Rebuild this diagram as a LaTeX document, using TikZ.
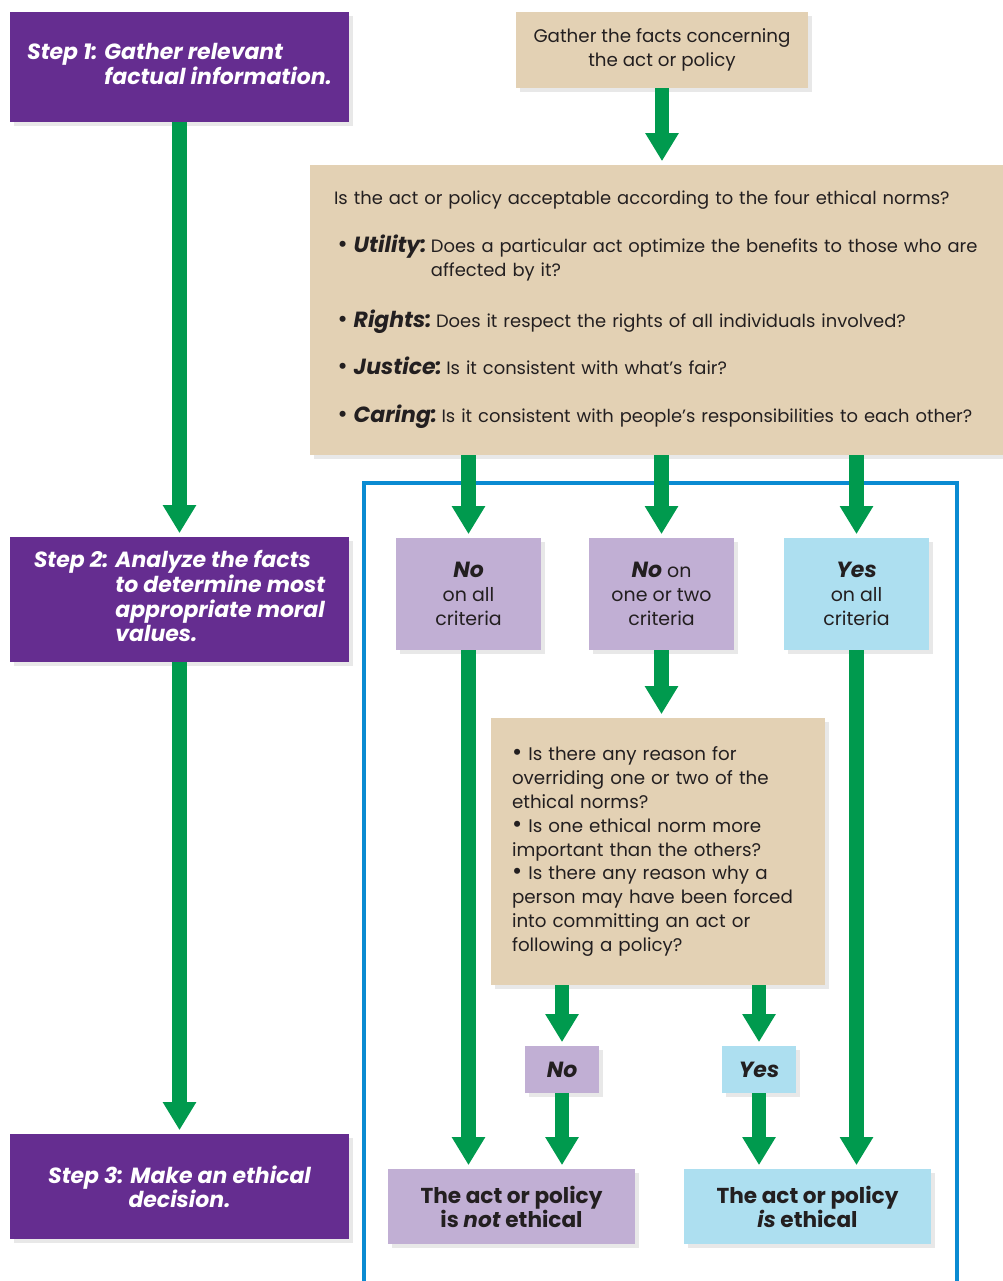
\documentclass[tikz,border=0pt]{standalone}
\usepackage{fontspec}
\setmainfont{Poppins}
\usetikzlibrary{arrows.meta,positioning,shadows}
\definecolor{stepviolet}{HTML}{652D90}
\definecolor{factstan}{HTML}{E3D1B4}
\definecolor{nolilac}{HTML}{C1AFD4}
\definecolor{yessky}{HTML}{ADDFF0}
\definecolor{framecyan}{HTML}{0A8BD2}
\definecolor{flowgreen}{HTML}{009A4E}
\definecolor{inkgray}{HTML}{231F20}
\newcommand{\bitext}[1]{{\fontsize{12.5}{13.6}\selectfont\bfseries\itshape #1}}
\newcommand{\dotmark}{{\fontsize{14}{13.6}\selectfont\textbullet}}
\newcommand{\crit}[1]{\hspace*{2pt}\dotmark\ \bitext{#1}\hspace{2.5pt}}

\begin{document}
\begin{tikzpicture}[x=0.02cm,y=-0.02cm,
  font=\fontsize{10.4}{13.6}\selectfont,
  boxbase/.style={inner sep=0pt,text=inkgray,
    drop shadow={opacity=0.18,shadow xshift=2.5pt,shadow yshift=-2.5pt}},
  stepbox/.style={boxbase,fill=stepviolet,text=white,minimum width=6.78cm,
    font=\fontsize{12.5}{13.6}\selectfont\bfseries\itshape},
  tanbox/.style={boxbase,fill=factstan},
  nobox/.style={boxbase,fill=nolilac},
  yesbox/.style={boxbase,fill=yessky},
  pick/.style={minimum width=2.9cm,minimum height=2.24cm,align=center,
    font=\fontsize{10.8}{13.6}\selectfont},
  answer/.style={minimum width=1.48cm,minimum height=0.94cm,
    font=\fontsize{12.5}{13.6}\selectfont\bfseries\itshape},
  verdict/.style={minimum width=4.94cm,minimum height=1.5cm,align=center,
    font=\fontsize{12.3}{13.6}\selectfont\bfseries},
  flow/.style={draw=flowgreen,line width=8pt,
    -{Triangle[width=18pt,length=16pt]},shorten >=2pt}]
\clip (0,0) rectangle (1003,1281);

% steps on the left
\node[stepbox,minimum height=2.2cm] (step1) at (179.5,67)
  {Step 1: \begin{tabular}[t]{@{}l@{}}Gather relevant\\factual information.\end{tabular}};
\node[stepbox,minimum height=2.5cm] (step2) at (179.5,599.5)
  {Step 2: \begin{tabular}[t]{@{}l@{}}Analyze the facts\\to determine most\\appropriate moral\\values.\end{tabular}};
\node[stepbox,minimum height=2.1cm,align=center] (step3) at (179.5,1186.5)
  {Step 3: Make an ethical\\decision.};

% frame round the outcomes
\draw[framecyan,line width=2.2pt] (364,483) rectangle (957,1300);

% facts and norms
\node[tanbox,minimum width=5.84cm,minimum height=1.52cm,align=center] (gather) at (662,50)
  {Gather the facts concerning\\the act or policy};
\node[tanbox,minimum width=13.86cm,minimum height=5.8cm,text width=12.9cm,align=left,
  font=\fontsize{10.2}{13.6}\selectfont] (norms) at (656.5,310)
  {Is the act or policy acceptable according to the four ethical norms?\\[13.6pt]
   \crit{Utility:}\begin{tabular}[t]{@{}l@{}}Does a particular act optimize the benefits to those who are\\affected by it?\end{tabular}\\[13.6pt]
   \crit{Rights:}Does it respect the rights of all individuals involved?\\[13.6pt]
   \crit{Justice:}Is it consistent with what’s fair?\\[13.6pt]
   \mbox{\crit{Caring:}Is it consistent with people’s responsibilities to each other?}};

% the three answers
\node[nobox,pick] (noall) at (468.5,594) {\bitext{No}\\on all\\criteria};
\node[nobox,pick] (nosome) at (661.5,594) {\bitext{No} on\\one or two\\criteria};
\node[yesbox,pick] (yesall) at (856.5,594) {\bitext{Yes}\\on all\\criteria};

\node[tanbox,minimum width=6.68cm,minimum height=5.34cm,text width=5.84cm,align=left] (questions) at (658,851.5)
  {\dotmark\ Is there any reason for\\overriding one or two of the\\ethical norms?\\
   \dotmark\ Is one ethical norm more\\important than the others?\\
   \dotmark\ Is there any reason why a\\person may have been forced\\into committing an act or\\following a policy?};

\node[nobox,answer] (no) at (562,1069.5) {No};
\node[yesbox,answer] (yes) at (759,1069.5) {Yes};

\node[nobox,verdict] (notok) at (511.5,1206.5) {The act or policy\\is \textit{not} ethical};
\node[yesbox,verdict] (ok) at (807.5,1206.5) {The act or policy\\\textit{is} ethical};

% arrows
\draw[flow] (step1) -- (step2);
\draw[flow] (step2) -- (step3);
\draw[flow] (gather) -- (gather |- norms.north);
\draw[flow] (norms.south -| noall) -- (noall.north);
\draw[flow] (norms.south -| nosome) -- (nosome.north);
\draw[flow] (norms.south -| yesall) -- (yesall.north);
\draw[flow] (noall) -- (noall |- notok.north);
\draw[flow] (nosome) -- (nosome |- questions.north);
\draw[flow] (questions.south -| no) -- (no);
\draw[flow] (questions.south -| yes) -- (yes);
\draw[flow] (no) -- (no |- notok.north);
\draw[flow] (yes) -- (yes |- ok.north);
\draw[flow] (yesall) -- (yesall |- ok.north);
\end{tikzpicture}
\end{document}
